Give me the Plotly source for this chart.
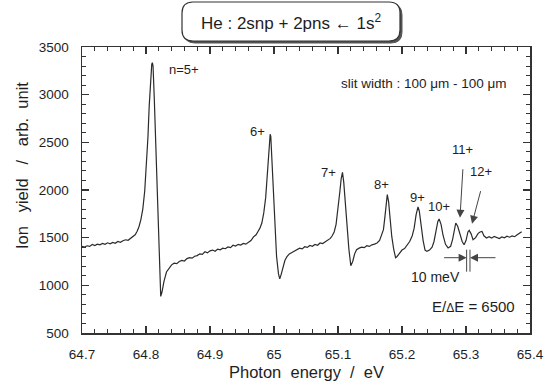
import plotly.graph_objects as go

# ---------------- data ----------------
energy_eV = [
    64.700, 64.704, 64.708, 64.712, 64.716, 64.720, 64.724, 64.728, 64.732, 64.736,
    64.740, 64.744, 64.748, 64.752, 64.756, 64.760, 64.764, 64.768, 64.772, 64.776,
    64.780, 64.783, 64.786, 64.789, 64.792, 64.795, 64.798, 64.801, 64.803, 64.805,
    64.807, 64.809, 64.810, 64.811, 64.813, 64.815, 64.817, 64.819, 64.821, 64.823,
    64.825, 64.828, 64.832, 64.836, 64.840, 64.844, 64.848, 64.852, 64.856, 64.860,
    64.864, 64.868, 64.872, 64.876, 64.880, 64.884, 64.888, 64.892, 64.896, 64.900,
    64.904, 64.908, 64.912, 64.916, 64.920, 64.924, 64.928, 64.932, 64.936, 64.940,
    64.944, 64.948, 64.952, 64.956, 64.960, 64.964, 64.968, 64.972, 64.975, 64.978,
    64.981, 64.984, 64.987, 64.989, 64.991, 64.993, 64.994, 64.995, 64.997, 64.999,
    65.001, 65.004, 65.007, 65.009, 65.011, 65.014, 65.017, 65.020, 65.024, 65.028,
    65.032, 65.036, 65.040, 65.044, 65.048, 65.052, 65.056, 65.060, 65.064, 65.068,
    65.072, 65.076, 65.080, 65.084, 65.088, 65.091, 65.094, 65.097, 65.100, 65.103,
    65.105, 65.107, 65.109, 65.111, 65.114, 65.117, 65.120, 65.123, 65.126, 65.129,
    65.133, 65.137, 65.141, 65.145, 65.149, 65.153, 65.157, 65.161, 65.165, 65.168,
    65.171, 65.173, 65.175, 65.177, 65.179, 65.181, 65.184, 65.187, 65.190, 65.192,
    65.196, 65.200, 65.204, 65.208, 65.212, 65.216, 65.219, 65.222, 65.225, 65.227,
    65.230, 65.233, 65.236, 65.239, 65.243, 65.247, 65.250, 65.253, 65.256, 65.258,
    65.261, 65.264, 65.268, 65.272, 65.276, 65.279, 65.282, 65.284, 65.287, 65.290,
    65.294, 65.297, 65.300, 65.303, 65.305, 65.308, 65.311, 65.315, 65.319, 65.322,
    65.325, 65.328, 65.332, 65.336, 65.340, 65.344, 65.348, 65.352, 65.356, 65.360,
    65.364, 65.368, 65.372, 65.376, 65.380, 65.384, 65.387,
]
ion_yield = [
    1410, 1402, 1415, 1408, 1428, 1418, 1432, 1425, 1440, 1430,
    1446, 1436, 1450, 1441, 1460, 1452, 1468, 1478, 1472, 1496,
    1510, 1530, 1565, 1615, 1690, 1800, 1990, 2265, 2550, 2880,
    3170, 3320, 3335, 3300, 2950, 2550, 2100, 1671, 1250, 884,
    930, 1040, 1140, 1185, 1215, 1232, 1228, 1250, 1262, 1255,
    1280, 1290, 1285, 1305, 1312, 1330, 1325, 1352, 1340, 1362,
    1370, 1358, 1380, 1372, 1390, 1384, 1402, 1395, 1420, 1412,
    1430, 1422, 1440, 1432, 1455, 1470, 1508, 1530, 1565, 1600,
    1654, 1760, 1920, 2120, 2330, 2540, 2585, 2560, 2280, 1933,
    1620, 1304, 1120, 1068, 1110, 1200, 1260, 1300, 1330, 1345,
    1362, 1375, 1390, 1382, 1405, 1398, 1418, 1410, 1428, 1420,
    1444, 1438, 1458, 1470, 1492, 1520, 1560, 1640, 1790, 1990,
    2120, 2185, 2080, 1880, 1618, 1380, 1206, 1250, 1330, 1374,
    1390, 1400, 1395, 1415, 1408, 1425, 1432, 1444, 1470, 1520,
    1584, 1700, 1860, 1951, 1880, 1730, 1513, 1380, 1290, 1300,
    1340, 1370, 1385, 1420, 1460, 1520, 1600, 1740, 1822, 1780,
    1620, 1470, 1370, 1356, 1370, 1400, 1460, 1560, 1670, 1696,
    1640, 1530, 1430, 1392, 1410, 1480, 1600, 1654, 1620, 1540,
    1460, 1426, 1470, 1560, 1576, 1540, 1479, 1500, 1545, 1560,
    1566, 1520, 1497, 1510, 1495, 1512, 1500, 1490, 1508, 1498,
    1515, 1505, 1518, 1510, 1530, 1545, 1562,
]

x_tick_vals = [64.7, 64.8, 64.9, 65.0, 65.1, 65.2, 65.3, 65.4]
x_tick_text = ["64.7", "64.8", "64.9", "65", "65.1", "65.2", "65.3", "65.4"]
y_tick_vals = [500, 1000, 1500, 2000, 2500, 3000, 3500]
y_tick_text = ["500", "1000", "1500", "2000", "2500", "3000", "3500"]

peak_labels = ["n=5+", "6+", "7+", "8+", "9+", "10+"]
peak_label_x = [64.8323, 64.989, 65.100, 65.168, 65.2242, 65.258]
peak_label_y = [3262, 2615, 2182, 2056, 1919, 1828]
peak_label_anchor = ["left", "right", "right", "center", "center", "center"]

arrow_labels = ["11+", "12+"]
arrow_tip_x = [65.2906, 65.3094]
arrow_tip_y = [1709, 1647]
arrow_dx = [3, 9]
arrow_dy = [-50, -34]

resolution_lines_x = [65.3010, 65.3062]
resolution_y = [1143, 1374, 1290]

# ---------------- figure ----------------
FONT = "Liberation Sans, Arial, Helvetica, sans-serif"
TXT = "#1e1e1e"
L, R, T, B = 82, 20, 47, 56
W, H = 550, 389
PW, PH = W - L - R, H - T - B


def paper_xy(px, py):
    return (px - L) / PW, (H - B - py) / PH


def rounded_path(px0, py0, px1, py1, r):
    x0, y1 = paper_xy(px0, py0)
    x1, y0 = paper_xy(px1, py1)
    rx, ry = r / PW, r / PH
    return (f"M {x0+rx},{y0} L {x1-rx},{y0} Q {x1},{y0} {x1},{y0+ry} "
            f"L {x1},{y1-ry} Q {x1},{y1} {x1-rx},{y1} L {x0+rx},{y1} "
            f"Q {x0},{y1} {x0},{y1-ry} L {x0},{y0+ry} Q {x0},{y0} {x0+rx},{y0} Z")


fig = go.Figure()
fig.add_trace(go.Scatter(x=energy_eV, y=ion_yield, mode="lines",
                         line=dict(color="#2b2b2b", width=1.2), hoverinfo="skip",
                         showlegend=False))

axis_common = dict(showline=True, linecolor="#333", linewidth=1.5, mirror="ticks",
                   ticks="inside", ticklen=7, tickwidth=1.2, tickcolor="#333",
                   showgrid=False, zeroline=False, automargin=False,
                   tickfont=dict(family=FONT, size=13.5, color=TXT))

fig.update_xaxes(range=[64.7, 65.4], tickvals=x_tick_vals, ticktext=x_tick_text,
                 minor=dict(dtick=0.02, tick0=64.7, ticks="inside", ticklen=4,
                            tickwidth=1, tickcolor="#333", showgrid=False),
                 ticklabelstandoff=8, **axis_common)
fig.update_yaxes(range=[500, 3500], tickvals=y_tick_vals, ticktext=y_tick_text,
                 minor=dict(dtick=100, tick0=500, ticks="inside", ticklen=4,
                            tickwidth=1, tickcolor="#333", showgrid=False),
                 ticklabelstandoff=9, **axis_common)

anns = []
for t, x, y, a in zip(peak_labels, peak_label_x, peak_label_y, peak_label_anchor):
    anns.append(dict(x=x, y=y, text=t, showarrow=False, xanchor=a, yanchor="middle",
                     font=dict(family=FONT, size=13, color=TXT)))
for t, x, y, dx, dy in zip(arrow_labels, arrow_tip_x, arrow_tip_y, arrow_dx, arrow_dy):
    anns.append(dict(x=x, y=y, ax=dx, ay=dy, text="", showarrow=True, arrowhead=2,
                     arrowsize=1.6, arrowwidth=1, arrowcolor="#444"))
    anns.append(dict(x=x, y=y, xshift=dx, yshift=-dy + 9, text=t, showarrow=False,
                     xanchor="center", yanchor="bottom",
                     font=dict(family=FONT, size=13, color=TXT)))
# resolution marker arrows
anns.append(dict(x=resolution_lines_x[0], y=resolution_y[2], ax=-24, ay=0, text="",
                 showarrow=True, arrowhead=2, arrowsize=1.6, arrowwidth=1, arrowcolor="#444"))
anns.append(dict(x=resolution_lines_x[1], y=resolution_y[2], ax=27, ay=0, text="",
                 showarrow=True, arrowhead=2, arrowsize=1.6, arrowwidth=1, arrowcolor="#444"))
anns.append(dict(x=65.2516, y=1090, text="10 meV", showarrow=False,
                 xanchor="center", yanchor="middle",
                 font=dict(family=FONT, size=14, color=TXT)))
anns.append(dict(x=65.3117, y=776, text="E/<span style='font-size:12px'>Δ</span>E = 6500",
                 showarrow=False, xanchor="center", yanchor="middle",
                 font=dict(family=FONT, size=15, color=TXT)))
anns.append(dict(x=65.367, y=3115, text="slit width : 100 μm - 100 μm", showarrow=False,
                 xanchor="right", yanchor="middle",
                 font=dict(family=FONT, size=13.5, color=TXT)))

# title, axis titles
tx, ty = paper_xy(291, 22)
anns.append(dict(xref="paper", yref="paper", x=tx, y=ty, xanchor="center", yanchor="middle",
                 text="He : 2snp + 2pns ← 1s<sup>2</sup>", showarrow=False,
                 font=dict(family=FONT, size=17, color=TXT)))
yx, yy = paper_xy(22, 166)
anns.append(dict(xref="paper", yref="paper", x=yx, y=yy, textangle=-90,
                 xanchor="center", yanchor="middle",
                 text="Ion   yield   /   arb.  unit", showarrow=False,
                 font=dict(family=FONT, size=16.5, color=TXT)))
xx, xy = paper_xy(306, 372)
anns.append(dict(xref="paper", yref="paper", x=xx, y=xy, xanchor="center", yanchor="middle",
                 text="Photon  energy  /  eV", showarrow=False,
                 font=dict(family=FONT, size=16.5, color=TXT)))

shapes = [
    dict(type="path", xref="paper", yref="paper",
         path=rounded_path(184, 4, 402, 43, 11), fillcolor="#555",
         line=dict(color="#555", width=1)),
    dict(type="path", xref="paper", yref="paper",
         path=rounded_path(182, 2, 400, 41, 11), fillcolor="white",
         line=dict(color="#333", width=1.2)),
]
for xv in resolution_lines_x:
    shapes.append(dict(type="line", xref="x", yref="y", x0=xv, x1=xv,
                       y0=resolution_y[0], y1=resolution_y[1],
                       line=dict(color="#444", width=1)))

fig.update_layout(width=W, height=H, margin=dict(l=L, r=R, t=T, b=B),
                  plot_bgcolor="white", paper_bgcolor="white",
                  annotations=anns, shapes=shapes, showlegend=False)

fig.write_html("out.html", config={"displayModeBar": False, "staticPlot": True},
               post_script="document.body.style.margin='0';document.body.style.padding='0';")
